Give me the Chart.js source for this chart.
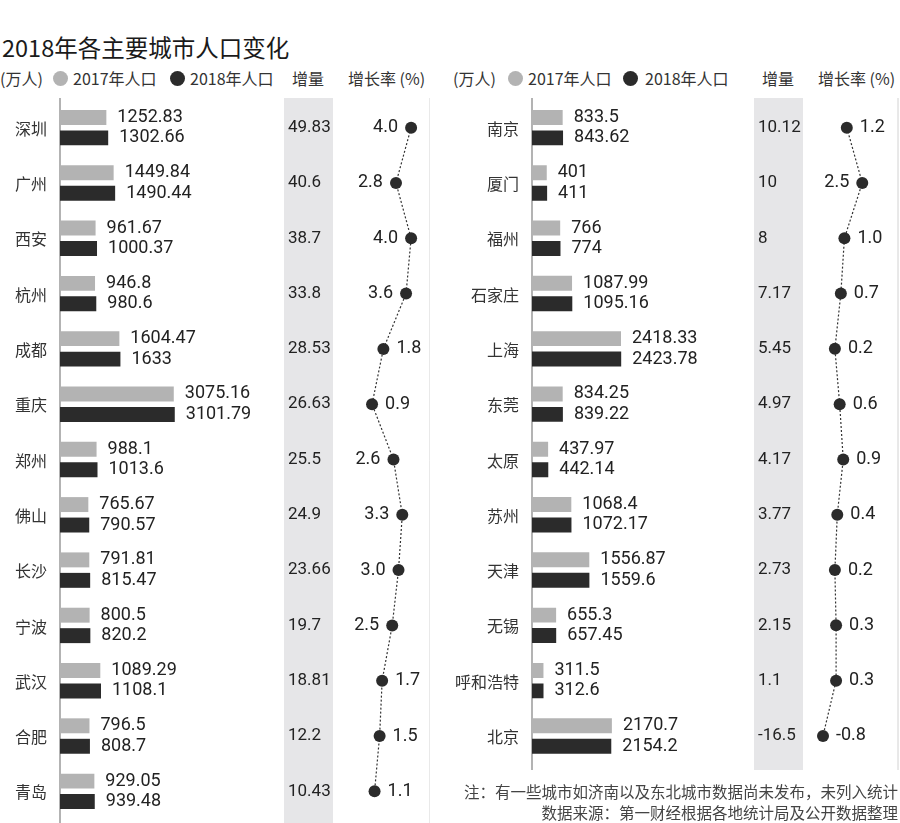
<!DOCTYPE html>
<html>
<head>
<meta charset="utf-8">
<script src="https://cdn.jsdelivr.net/npm/chart.js@4/dist/chart.umd.min.js"></script>
<style>
  html, body { margin: 0; padding: 0; background: #ffffff; }
  body { width: 900px; height: 823px; position: relative; overflow: hidden;
         font-family: "Noto Sans CJK SC", "Noto Sans", sans-serif; color: #222; }
  .abs { position: absolute; white-space: nowrap; }
  #title { left: 2px; top: 31px; font-size: 23.5px; line-height: 32px; color: #1a1a1a; }
  .leg { top: 66px; font-size: 16px; line-height: 24px; color: #333; }
  .dot { position: absolute; width: 15px; height: 15px; border-radius: 50%; top: 71px; }
  .foot { font-size: 15.5px; line-height: 20px; color: #444; right: 2px; text-align: right; }
  canvas { position: absolute; }
</style>
</head>
<body>
<div id="title" class="abs">2018年各主要城市人口变化</div>

<div class="abs leg" style="left:0px">(万人)</div>
<div class="dot" style="left:53px;background:#b3b3b3"></div>
<div class="abs leg" style="left:73px">2017年人口</div>
<div class="dot" style="left:170px;background:#2b2b2b"></div>
<div class="abs leg" style="left:190px">2018年人口</div>
<div class="abs leg" style="left:292px">增量</div>
<div class="abs leg" style="left:348px">增长率 (%)</div>

<div class="abs leg" style="left:453px">(万人)</div>
<div class="dot" style="left:508px;background:#b3b3b3"></div>
<div class="abs leg" style="left:528px">2017年人口</div>
<div class="dot" style="left:623px;background:#2b2b2b"></div>
<div class="abs leg" style="left:645px">2018年人口</div>
<div class="abs leg" style="left:762px">增量</div>
<div class="abs leg" style="left:818px">增长率 (%)</div>

<canvas id="left" width="430" height="725" style="left:0px;top:98px;width:430px;height:725px"></canvas>
<canvas id="right" width="470" height="725" style="left:430px;top:98px;width:470px;height:725px"></canvas>

<div class="abs foot" style="top:781px">注：有一些城市如济南以及东北城市数据尚未发布，未列入统计</div>
<div class="abs foot" style="top:802px">数据来源：第一财经根据各地统计局及公开数据整理</div>

<script>
// ---------- data ----------
const citiesLeft = ["深圳","广州","西安","杭州","成都","重庆","郑州","佛山","长沙","宁波","武汉","合肥","青岛"];
const pop2017Left = [1252.83,1449.84,961.67,946.8,1604.47,3075.16,988.1,765.67,791.81,800.5,1089.29,796.5,929.05];
const pop2018Left = [1302.66,1490.44,1000.37,980.6,1633,3101.79,1013.6,790.57,815.47,820.2,1108.1,808.7,939.48];
const incLeft = [49.83,40.6,38.7,33.8,28.53,26.63,25.5,24.9,23.66,19.7,18.81,12.2,10.43];
const rateLeft = [4.0,2.8,4.0,3.6,1.8,0.9,2.6,3.3,3.0,2.5,1.7,1.5,1.1];

const citiesRight = ["南京","厦门","福州","石家庄","上海","东莞","太原","苏州","天津","无锡","呼和浩特","北京"];
const pop2017Right = [833.5,401,766,1087.99,2418.33,834.25,437.97,1068.4,1556.87,655.3,311.5,2170.7];
const pop2018Right = [843.62,411,774,1095.16,2423.78,839.22,442.14,1072.17,1559.6,657.45,312.6,2154.2];
const incRight = [10.12,10,8,7.17,5.45,4.97,4.17,3.77,2.73,2.15,1.1,-16.5];
const rateRight = [1.2,2.5,1.0,0.7,0.2,0.6,0.9,0.4,0.2,0.3,0.3,-0.8];

// ---------- styling ----------
const GREY = "#b3b3b3", BLACK = "#2b2b2b";
const NUM_FONT = '18px Roboto, "DejaVu Sans Condensed", sans-serif';
const INC_FONT = '17px Roboto, "DejaVu Sans Condensed", sans-serif';
const CITY_FONT = '16px "Noto Sans CJK SC", sans-serif';

function makePanel(canvasId, cities, p17, p18, inc, rate, cfg) {
  const decor = {
    id: 'decor',
    beforeDatasetsDraw(chart) {
      const ctx = chart.ctx, a = chart.chartArea;
      ctx.save();
      ctx.fillStyle = "#e6e6e8";
      ctx.fillRect(cfg.bandX, 0, cfg.bandW, cfg.lineBottom);
      ctx.strokeStyle = "#9a9a9a";
      ctx.lineWidth = 1.5;
      ctx.beginPath(); ctx.moveTo(a.left, 0); ctx.lineTo(a.left, cfg.lineBottom); ctx.stroke();
      ctx.strokeStyle = "#d2d2d2";
      ctx.lineWidth = 1;
      cfg.dividers.forEach(d => {
        ctx.beginPath(); ctx.moveTo(d.x, 0); ctx.lineTo(d.x, d.bottom); ctx.stroke();
      });
      ctx.restore();
    },
    afterDatasetsDraw(chart) {
      const ctx = chart.ctx, a = chart.chartArea, ys = chart.scales.y;
      const m17 = chart.getDatasetMeta(0), m18 = chart.getDatasetMeta(1), mr = chart.getDatasetMeta(2);
      ctx.save();
      ctx.textBaseline = "middle";
      cities.forEach((c, i) => {
        const yc = ys.getPixelForValue(i);
        ctx.font = CITY_FONT; ctx.fillStyle = "#333"; ctx.textAlign = "right";
        ctx.fillText(c, a.left - cfg.cityGap, yc + 1);
        ctx.font = NUM_FONT; ctx.fillStyle = "#222"; ctx.textAlign = "left";
        const b17 = m17.data[i], b18 = m18.data[i];
        ctx.fillText(String(p17[i]), b17.x + 11, b17.y);
        ctx.fillText(String(p18[i]), b18.x + 11, b18.y);
        ctx.font = INC_FONT; ctx.fillStyle = "#222";
        ctx.fillText(String(inc[i]), cfg.bandX + 4, yc);
        const pt = mr.data[i];
        ctx.font = NUM_FONT;
        if (rate[i] >= 2.5) { ctx.textAlign = "right"; ctx.fillText(rate[i].toFixed(1), pt.x - 13, pt.y); }
        else { ctx.textAlign = "left"; ctx.fillText(rate[i].toFixed(1), pt.x + 13, pt.y); }
      });
      ctx.restore();
    }
  };

  return new Chart(document.getElementById(canvasId), {
    type: 'bar',
    data: {
      labels: cities,
      datasets: [
        { label: '2017年人口', data: p17, backgroundColor: GREY, xAxisID: 'x', yAxisID: 'y',
          categoryPercentage: 0.74, barPercentage: 0.73, order: 2 },
        { label: '2018年人口', data: p18, backgroundColor: BLACK, xAxisID: 'x', yAxisID: 'y',
          categoryPercentage: 0.74, barPercentage: 0.73, order: 2 },
        { type: 'line', label: '增长率', data: rate, xAxisID: 'x2', yAxisID: 'y',
          borderColor: "#333", borderWidth: 1.2, borderDash: [2, 2], tension: 0,
          pointRadius: 6, pointBackgroundColor: BLACK, pointBorderColor: BLACK, pointBorderWidth: 0,
          fill: false, clip: false, order: 1 }
      ]
    },
    options: {
      indexAxis: 'y',
      responsive: false,
      animation: false,
      layout: { padding: cfg.padding, autoPadding: false },
      plugins: { legend: { display: false }, tooltip: { enabled: false } },
      scales: {
        x: { type: 'linear', axis: 'x', min: 0, max: 10000, display: false },
        x2: { type: 'linear', axis: 'x', min: cfg.rateMin, max: cfg.rateMax, display: false },
        y: { type: 'category', display: false, offset: true }
      }
    },
    plugins: [decor]
  });
}

makePanel('left', citiesLeft, pop2017Left, pop2018Left, incLeft, rateLeft, {
  padding: { left: 60, right: 0, top: 2, bottom: 4 },
  bandX: 284, bandW: 49, lineBottom: 725,
  dividers: [{ x: 430, bottom: 725 }],
  cityGap: 13,
  rateMin: -23.87, rateMax: 5.5
});

makePanel('right', citiesRight, pop2017Right, pop2018Right, incRight, rateRight, {
  padding: { left: 102, right: 0, top: 2, bottom: 59.4 },
  bandX: 324, bandW: 49, lineBottom: 672,
  dividers: [{ x: 468, bottom: 672 }],
  cityGap: 13,
  rateMin: -25.25, rateMax: 5.67
});
</script>
</body>
</html>
